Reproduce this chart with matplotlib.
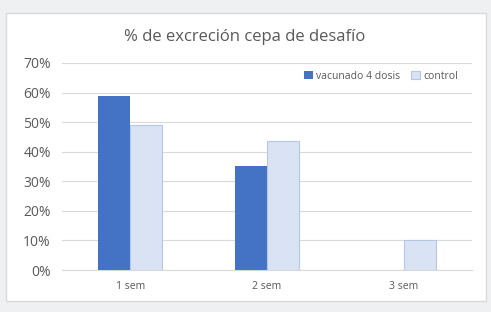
import matplotlib
matplotlib.use("Agg")
import matplotlib.pyplot as plt
from matplotlib.patches import Rectangle
import numpy as np

categories = ["1 sem", "2 sem", "3 sem"]
vacunado = [0.588, 0.352, 0.0]
control = [0.49, 0.435, 0.10]
yticks = [0, 0.1, 0.2, 0.3, 0.4, 0.5, 0.6, 0.7]
ytick_labels = ["0%", "10%", "20%", "30%", "40%", "50%", "60%", "70%"]

W, H = 491, 312
fig = plt.figure(figsize=(W / 100, H / 100), dpi=100)
fig.patch.set_facecolor("#eff0f1")
fig.patches.append(Rectangle((6 / W, 1 - 301 / H), 480 / W, 288 / H,
                             transform=fig.transFigure, facecolor="white",
                             edgecolor="#d9d9d9", linewidth=1, zorder=-10))

ax = fig.add_axes([62 / W, 1 - 270 / H, 410 / W, 207 / H])
ax.set_zorder(1)
ax.set_facecolor("none")
x = np.arange(len(categories))
bw = 0.235
ax.bar(x - bw / 2, vacunado, bw, color="#4472c4", label="vacunado 4 dosis", zorder=3)
ax.bar(x + bw / 2, control, bw, color="#dae3f3", edgecolor="#b4c7e7",
       linewidth=0.8, label="control", zorder=3)
ax.set_xlim(-0.5, 2.5)
ax.set_ylim(0, 0.7)
ax.set_yticks(yticks)
ax.set_yticklabels(ytick_labels)
ax.set_xticks(x)
ax.set_xticklabels(categories)
ax.grid(axis="y", color="#d9d9d9", linewidth=0.8, zorder=0)
for s in ["top", "right", "left"]:
    ax.spines[s].set_visible(False)
ax.spines["bottom"].set_color("#d9d9d9")
ax.tick_params(axis="both", length=0, colors="#595959")
for lbl in ax.get_yticklabels():
    lbl.set_fontsize(10)
    lbl.set_fontfamily("Open Sans")
for lbl in ax.get_xticklabels():
    lbl.set_fontsize(7.5)
    lbl.set_fontfamily("Open Sans")
ax.tick_params(axis="y", pad=8)
ax.tick_params(axis="x", pad=8)

fig.text(245 / W, 1 - 37 / H, "% de excreción cepa de desafío", ha="center",
         va="center", fontsize=12, color="#595959", family="Open Sans")

leg = ax.legend(loc="center right", bbox_to_anchor=(0.965, 0.935), ncol=2,
                frameon=False, handlelength=0.8, handleheight=0.8,
                handletextpad=0.3, columnspacing=1.1, labelcolor="#595959",
                borderaxespad=0, borderpad=0,
                prop={"family": "Open Sans", "size": 7.5})

fig.savefig("out.png", dpi=100, facecolor=fig.get_facecolor())
